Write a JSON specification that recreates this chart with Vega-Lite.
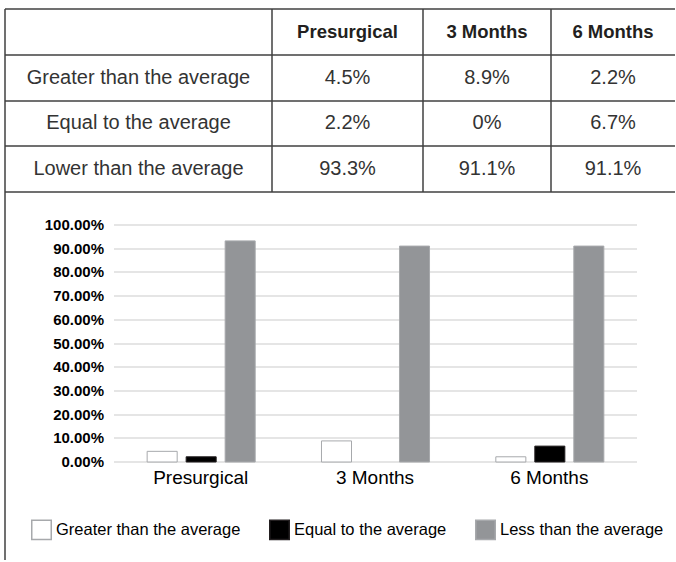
{
  "$schema": "https://vega.github.io/schema/vega-lite/v6.json",
  "padding": {"left": 5, "top": 9, "right": 0, "bottom": 0},
  "background": "white",
  "spacing": 0,
  "config": {
    "view": {"stroke": null},
    "font": "Liberation Sans",
    "axis": {"translate": 0}
  },
  "datasets": {
    "table": [
      {"col": "label", "row": "header", "text": ""},
      {"col": "label", "row": "greater", "text": "Greater than the average"},
      {"col": "label", "row": "equal", "text": "Equal to the average"},
      {"col": "label", "row": "lower", "text": "Lower than the average"},
      {"col": "Presurgical", "row": "header", "text": "Presurgical"},
      {"col": "Presurgical", "row": "greater", "text": "4.5%"},
      {"col": "Presurgical", "row": "equal", "text": "2.2%"},
      {"col": "Presurgical", "row": "lower", "text": "93.3%"},
      {"col": "3 Months", "row": "header", "text": "3 Months"},
      {"col": "3 Months", "row": "greater", "text": "8.9%"},
      {"col": "3 Months", "row": "equal", "text": "0%"},
      {"col": "3 Months", "row": "lower", "text": "91.1%"},
      {"col": "6 Months", "row": "header", "text": "6 Months"},
      {"col": "6 Months", "row": "greater", "text": "2.2%"},
      {"col": "6 Months", "row": "equal", "text": "6.7%"},
      {"col": "6 Months", "row": "lower", "text": "91.1%"}
    ],
    "bars": [
      {"period": "Presurgical", "level": "Greater than the average", "value": 0.045},
      {"period": "Presurgical", "level": "Equal to the average", "value": 0.022},
      {"period": "Presurgical", "level": "Less than the average", "value": 0.933},
      {"period": "3 Months", "level": "Greater than the average", "value": 0.089},
      {"period": "3 Months", "level": "Equal to the average", "value": 0},
      {"period": "3 Months", "level": "Less than the average", "value": 0.911},
      {"period": "6 Months", "level": "Greater than the average", "value": 0.022},
      {"period": "6 Months", "level": "Equal to the average", "value": 0.067},
      {"period": "6 Months", "level": "Less than the average", "value": 0.911}
    ]
  },
  "vconcat": [
    {
      "hconcat": [
        {
          "width": 267, "height": 183,
          "data": {"name": "table"},
          "transform": [{"filter": "datum.col === 'label'"}],
          "encoding": {
            "y": {"field": "row", "type": "nominal", "scale": {"domain": ["header", "greater", "equal", "lower"], "paddingInner": 0, "paddingOuter": 0}, "axis": {"orient": "left", "title": null, "labels": false, "ticks": false, "domain": true, "domainColor": "#404040", "domainWidth": 1.5, "grid": true, "gridColor": "#404040", "gridWidth": 1.5, "tickBand": "extent"}},
            "text": {"field": "text"}
          },
          "layer": [
            {"transform": [{"filter": "datum.row === 'header'"}], "mark": {"type": "text", "fontSize": 18.5, "fontWeight": "bold", "color": "#231f20"}},
            {"transform": [{"filter": "datum.row !== 'header'"}], "mark": {"type": "text", "fontSize": 20, "color": "#333333"}}
          ]
        },
        {
          "width": 151, "height": 183,
          "data": {"name": "table"},
          "transform": [{"filter": "datum.col === 'Presurgical'"}],
          "encoding": {
            "y": {"field": "row", "type": "nominal", "scale": {"domain": ["header", "greater", "equal", "lower"], "paddingInner": 0, "paddingOuter": 0}, "axis": {"orient": "left", "title": null, "labels": false, "ticks": false, "domain": true, "domainColor": "#404040", "domainWidth": 1.5, "grid": true, "gridColor": "#404040", "gridWidth": 1.5, "tickBand": "extent"}},
            "text": {"field": "text"}
          },
          "layer": [
            {"transform": [{"filter": "datum.row === 'header'"}], "mark": {"type": "text", "fontSize": 18.5, "fontWeight": "bold", "color": "#231f20"}},
            {"transform": [{"filter": "datum.row !== 'header'"}], "mark": {"type": "text", "fontSize": 20, "color": "#333333"}}
          ]
        },
        {
          "width": 128, "height": 183,
          "data": {"name": "table"},
          "transform": [{"filter": "datum.col === '3 Months'"}],
          "encoding": {
            "y": {"field": "row", "type": "nominal", "scale": {"domain": ["header", "greater", "equal", "lower"], "paddingInner": 0, "paddingOuter": 0}, "axis": {"orient": "left", "title": null, "labels": false, "ticks": false, "domain": true, "domainColor": "#404040", "domainWidth": 1.5, "grid": true, "gridColor": "#404040", "gridWidth": 1.5, "tickBand": "extent"}},
            "text": {"field": "text"}
          },
          "layer": [
            {"transform": [{"filter": "datum.row === 'header'"}], "mark": {"type": "text", "fontSize": 18.5, "fontWeight": "bold", "color": "#231f20"}},
            {"transform": [{"filter": "datum.row !== 'header'"}], "mark": {"type": "text", "fontSize": 20, "color": "#333333"}}
          ]
        },
        {
          "width": 124, "height": 183,
          "data": {"name": "table"},
          "transform": [{"filter": "datum.col === '6 Months'"}],
          "encoding": {
            "y": {"field": "row", "type": "nominal", "scale": {"domain": ["header", "greater", "equal", "lower"], "paddingInner": 0, "paddingOuter": 0}, "axis": {"orient": "left", "title": null, "labels": false, "ticks": false, "domain": true, "domainColor": "#404040", "domainWidth": 1.5, "grid": true, "gridColor": "#404040", "gridWidth": 1.5, "tickBand": "extent"}},
            "text": {"field": "text"}
          },
          "layer": [
            {"transform": [{"filter": "datum.row === 'header'"}], "mark": {"type": "text", "fontSize": 18.5, "fontWeight": "bold", "color": "#231f20"}},
            {"transform": [{"filter": "datum.row !== 'header'"}], "mark": {"type": "text", "fontSize": 20, "color": "#333333"}}
          ]
        }
      ],
      "spacing": 0,
      "bounds": "flush"
    },
    {
      "width": 670,
      "height": 368,
      "layer": [
        {
          "data": {"values": [{"edge": 0}]},
          "mark": {"type": "rule", "color": "#404040", "strokeWidth": 0},
          "encoding": {
            "y": {"field": "edge", "type": "quantitative", "scale": {"domain": [0, 1], "range": [0, 368], "nice": false, "zero": false}, "axis": {"orient": "left", "title": null, "labels": false, "ticks": false, "grid": false, "domain": true, "domainColor": "#404040", "domainWidth": 1.5}}
          }
        },
        {
          "data": {"name": "bars"},
          "mark": {"type": "bar"},
          "encoding": {
            "x": {"field": "period", "type": "nominal", "sort": ["Presurgical", "3 Months", "6 Months"], "scale": {"range": [109, 632], "paddingInner": 0, "paddingOuter": 0}, "axis": {"orient": "bottom", "offset": -98, "title": null, "labelAngle": 0, "labelFontSize": 19, "labelColor": "#000000", "labelPadding": 7, "domain": false, "ticks": false, "grid": false}},
            "xOffset": {"field": "level", "type": "nominal", "sort": ["Greater than the average", "Equal to the average", "Less than the average"], "scale": {"paddingInner": 0.23, "paddingOuter": 0.85}},
            "y": {"field": "value", "type": "quantitative", "scale": {"domain": [0, 1], "range": [270, 33], "nice": false}, "axis": {"orient": "left", "offset": -109, "title": null, "format": ".2%", "values": [0, 0.1, 0.2, 0.3, 0.4, 0.5, 0.6, 0.7, 0.8, 0.9, 1], "labelFontSize": 15, "labelFontWeight": "bold", "labelColor": "#000000", "labelPadding": 10, "domain": false, "ticks": false, "grid": true, "gridColor": "#dcdcdc", "gridWidth": 1.5}},
            "fill": {"field": "level", "type": "nominal", "scale": {"domain": ["Greater than the average", "Equal to the average", "Less than the average"], "range": ["#ffffff", "#000000", "#939598"]}, "legend": {"orient": "none", "legendX": 26, "legendY": 510, "direction": "horizontal", "columns": 3, "title": null, "padding": 0, "symbolType": "square", "symbolSize": 380, "symbolStrokeColor": "#111111", "symbolStrokeWidth": 1.5, "symbolOpacity": 1, "labelFontSize": 16.5, "labelColor": "#000000", "labelOffset": 4, "labelLimit": 300, "columnPadding": 25, "encode": {"symbols": {"update": {"stroke": {"value": "#111111"}, "strokeWidth": {"value": 1.5}}}}}},
            "stroke": {"field": "level", "type": "nominal", "scale": {"domain": ["Greater than the average", "Equal to the average", "Less than the average"], "range": ["#a7a9ac", "#231f20", "#a7a9ac"]}, "legend": null},
            "strokeWidth": {"condition": {"test": "datum.value === 0", "value": 0}, "value": 1}
          }
        }
      ],
      "resolve": {"scale": {"y": "independent"}, "axis": {"y": "independent"}}
    }
  ]
}
